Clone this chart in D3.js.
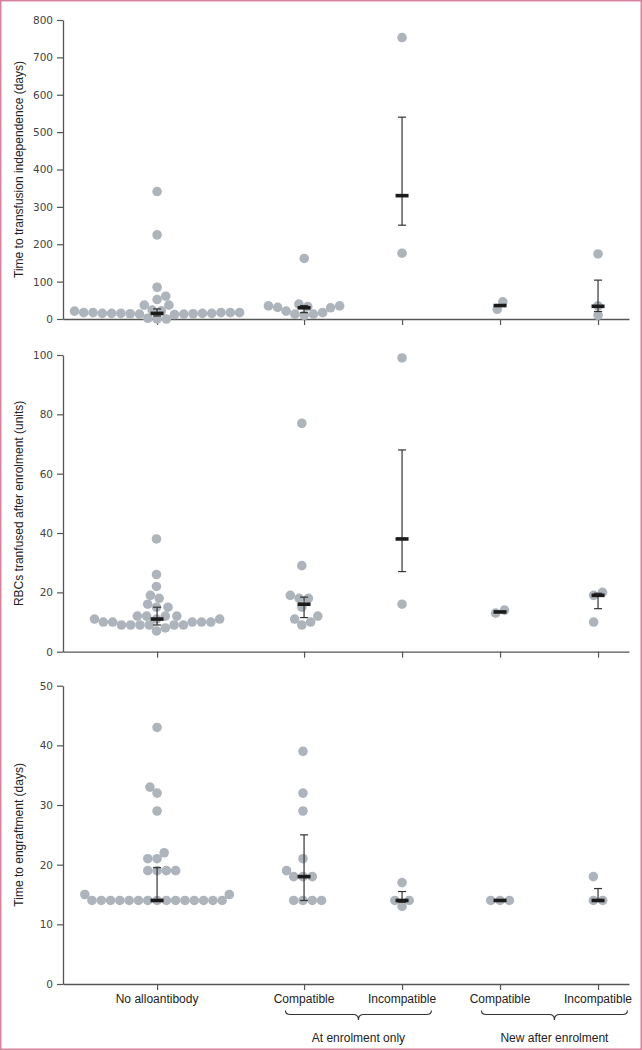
<!DOCTYPE html>
<html>
<head>
<meta charset="utf-8">
<script src="https://cdn.jsdelivr.net/npm/d3@7"></script>
<style>
  html, body { margin: 0; padding: 0; background: #fff; }
  svg { display: block; }
  text { font-family: "Liberation Sans", Arial, sans-serif; }
</style>
</head>
<body>
<svg id="chart" width="642" height="1050"></svg>
<script>
// ---------------- data ----------------
const categories = ["No alloantibody", "Compatible", "Incompatible", "Compatible", "Incompatible"];
const groupLabels = ["At enrolment only", "New after enrolment"];
const categoryGroup = [null, 0, 0, 1, 1];

// Panel 1: time to transfusion independence (days)
const independenceTitle = "Time to transfusion independence (days)";
const independenceTicks = [0, 100, 200, 300, 400, 500, 600, 700, 800];
const independenceNoAllo = [15, 15, 15, 0, 2, 17, 0, 15, 37, 15, 52, 85, 61, 37, 24, 14, 14, 17, 17, 13, 17, 21, 22, 13, 17, 12, 341, 225];
const independenceEnrolCompatible = [31, 13, 13, 35, 162, 40, 10, 17, 21, 33, 35, 30];
const independenceEnrolIncompatible = [753, 176];
const independenceNewCompatible = [26, 46];
const independenceNewIncompatible = [174, 35, 10];
const independenceMedian = [15, 30, 330, 36, 34];
const independenceLow = [8, 17, 251, null, 20];
const independenceHigh = [27, 36, 540, null, 104];

// Panel 2: RBCs transfused after enrolment (units)
const rbcTitle = "RBCs tranfused after enrolment (units)";
const rbcTicks = [0, 20, 40, 60, 80, 100];
const rbcNoAllo = [11, 8, 10, 10, 10, 7, 10, 10, 9, 15, 18, 9, 38, 26, 22, 19, 16, 9, 15, 11, 11, 12, 12, 12, 12, 9, 9, 9];
const rbcEnrolCompatible = [77, 29, 18, 19, 18, 15, 12, 11, 10, 9];
const rbcEnrolIncompatible = [99, 16];
const rbcNewCompatible = [13, 14];
const rbcNewIncompatible = [20, 19, 10];
const rbcMedian = [11, 16, 38, 13.4, 19];
const rbcLow = [9, 11.5, 27, null, 14.5];
const rbcHigh = [15, 18.4, 68, null, 19.7];

// Panel 3: time to engraftment (days)
const engraftTitle = "Time to engraftment (days)";
const engraftTicks = [0, 10, 20, 30, 40, 50];
const engraftNoAllo = [15, 14, 14, 14, 14, 14, 14, 14, 14, 14, 14, 14, 14, 14, 14, 14, 15, 19, 19, 19, 19, 21, 21, 22, 29, 32, 33, 43];
const engraftEnrolCompatible = [39, 32, 29, 21, 19, 18, 18, 18, 14, 14, 14, 14];
const engraftEnrolIncompatible = [17, 13, 14, 14];
const engraftNewCompatible = [14, 14, 14];
const engraftNewIncompatible = [18, 14, 14];
const engraftMedian = [14, 18, 14, 14, 14];
const engraftLow = [14, 14, 13.7, null, 14];
const engraftHigh = [19.5, 25, 15.5, null, 16];

// ---------------- layout ----------------
const svg = d3.select("#chart");
const W = 642, H = 1050;
const dotColor = "#adb4bb";
const axisColor = "#555";
const R = 4.8, D = 9.3;

svg.append("rect").attr("x", 0).attr("y", 0).attr("width", W).attr("height", H).attr("fill", "#fff");

// category slot: a half-slot gap after the first category
const slot = i => i + (i > 0 ? 0.5 : 0);
const x = d3.scaleLinear().domain([-0.96, 4.816]).range([63, 629]);

const panels = [
  { title: independenceTitle, ticks: independenceTicks, domain: [0, 800], range: [319, 20],
    values: [independenceNoAllo, independenceEnrolCompatible, independenceEnrolIncompatible, independenceNewCompatible, independenceNewIncompatible],
    median: independenceMedian, low: independenceLow, high: independenceHigh },
  { title: rbcTitle, ticks: rbcTicks, domain: [0, 100], range: [651.7, 355],
    values: [rbcNoAllo, rbcEnrolCompatible, rbcEnrolIncompatible, rbcNewCompatible, rbcNewIncompatible],
    median: rbcMedian, low: rbcLow, high: rbcHigh },
  { title: engraftTitle, ticks: engraftTicks, domain: [0, 50], range: [984, 685.7],
    values: [engraftNoAllo, engraftEnrolCompatible, engraftEnrolIncompatible, engraftNewCompatible, engraftNewIncompatible],
    median: engraftMedian, low: engraftLow, high: engraftHigh }
];

// greedy beeswarm: sorted by value, closest-to-centre non-overlapping offset
function swarm(values, y) {
  const pts = values.map((v, i) => ({ v, i, y: y(v) }))
    .sort((a, b) => a.v - b.v || a.i - b.i);
  const placed = [];
  let lastSign = -1;
  for (const p of pts) {
    const cands = [0];
    for (const q of placed) {
      const dy = Math.abs(q.y - p.y);
      if (dy < D) {
        const dx = Math.sqrt(D * D - dy * dy) + 0.001;
        cands.push(q.x + dx, q.x - dx);
      }
    }
    const ok = cands.filter(cx => placed.every(q => (q.x - cx) ** 2 + (q.y - p.y) ** 2 >= D * D - 0.01));
    ok.sort((a, b) => {
      const da = Math.abs(a) - Math.abs(b);
      if (Math.abs(da) > 0.05) return da;
      return (Math.sign(b) === -lastSign ? 1 : 0) - (Math.sign(a) === -lastSign ? 1 : 0);
    });
    p.x = ok[0];
    if (p.x !== 0) lastSign = Math.sign(p.x);
    placed.push(p);
  }
  const ext = d3.extent(placed, p => p.x);
  const shift = -(ext[0] + ext[1]) / 2;
  placed.forEach(p => p.x += shift);
  return placed;
}

panels.forEach((pn, pi) => {
  const y = d3.scaleLinear().domain(pn.domain).range(pn.range);
  const g = svg.append("g");

  // y axis
  const ya = g.append("g").attr("transform", "translate(63,0)")
    .call(d3.axisLeft(y).tickValues(pn.ticks).tickSize(6).tickSizeOuter(0).tickPadding(4));
  ya.select(".domain").attr("stroke", axisColor).attr("stroke-width", 1.3);
  ya.selectAll(".tick line").attr("stroke", axisColor).attr("stroke-width", 1.2);
  ya.selectAll(".tick text").attr("fill", "#444")
    .style("font-family", "'DejaVu Sans', sans-serif").style("font-size", "10.5px");

  // x axis
  const xa = g.append("g").attr("transform", `translate(0,${pn.range[0]})`)
    .call(d3.axisBottom(x).tickValues(categories.map((c, i) => slot(i))).tickSize(6).tickSizeOuter(0).tickFormat(""));
  xa.select(".domain").attr("stroke", axisColor).attr("stroke-width", 1.3);
  xa.selectAll(".tick line").attr("stroke", axisColor).attr("stroke-width", 1.2);

  // y title
  g.append("text")
    .attr("transform", `translate(22.5,${(pn.range[0] + pn.range[1]) / 2}) rotate(-90)`)
    .attr("text-anchor", "middle").attr("fill", "#222")
    .style("font-size", "12px")
    .text(pn.title);

  // dots
  pn.values.forEach((vals, ci) => {
    const cx = x(slot(ci));
    const pts = swarm(vals, y);
    g.append("g").selectAll("circle").data(pts).join("circle")
      .attr("cx", d => cx + d.x).attr("cy", d => d.y).attr("r", R)
      .attr("fill", dotColor);
  });

  // error bars and medians
  pn.median.forEach((m, ci) => {
    const cx = x(slot(ci));
    const lo = pn.low[ci], hi = pn.high[ci];
    if (lo !== null && hi !== null) {
      g.append("line").attr("x1", cx).attr("x2", cx).attr("y1", y(lo)).attr("y2", y(hi))
        .attr("stroke", "#333").attr("stroke-width", 1.2);
      [lo, hi].forEach(v => {
        g.append("line").attr("x1", cx - 4).attr("x2", cx + 4).attr("y1", y(v)).attr("y2", y(v))
          .attr("stroke", "#333").attr("stroke-width", 1.2);
      });
    }
    g.append("rect").attr("x", cx - 6.5).attr("y", y(m) - 1.8).attr("width", 13).attr("height", 3.6)
      .attr("fill", "#1b1b1b");
  });
});

// category labels
svg.append("g").selectAll("text").data(categories).join("text")
  .attr("x", (d, i) => x(slot(i))).attr("y", 1002.5)
  .attr("text-anchor", "middle").attr("fill", "#222").style("font-size", "12px")
  .text(d => d);

// braces + group labels
groupLabels.forEach((lab, gi) => {
  const idx = categoryGroup.map((g, i) => g === gi ? i : -1).filter(i => i >= 0);
  const x1 = x(slot(idx[0]) - 0.19), x2 = x(slot(idx[idx.length - 1]) + 0.3);
  const mid = (x1 + x2) / 2;
  const y0 = 1010.5, ym = 1014.5, yt = 1020;
  const p = d3.path();
  p.moveTo(x1, y0);
  p.quadraticCurveTo(x1, ym, x1 + 5, ym);
  p.lineTo(mid - 5, ym);
  p.quadraticCurveTo(mid, ym, mid, yt);
  p.quadraticCurveTo(mid, ym, mid + 5, ym);
  p.lineTo(x2 - 5, ym);
  p.quadraticCurveTo(x2, ym, x2, y0);
  svg.append("path").attr("d", p.toString()).attr("fill", "none").attr("stroke", "#333").attr("stroke-width", 1.1);
  svg.append("text").attr("x", mid).attr("y", 1042)
    .attr("text-anchor", "middle").attr("fill", "#222").style("font-size", "12px")
    .text(lab);
});

// pink frame
svg.append("rect").attr("x", 0.75).attr("y", 0.75).attr("width", W - 1.5).attr("height", H - 1.5)
  .attr("fill", "none").attr("stroke", "#d6839e").attr("stroke-width", 1.5);
</script>
</body>
</html>
